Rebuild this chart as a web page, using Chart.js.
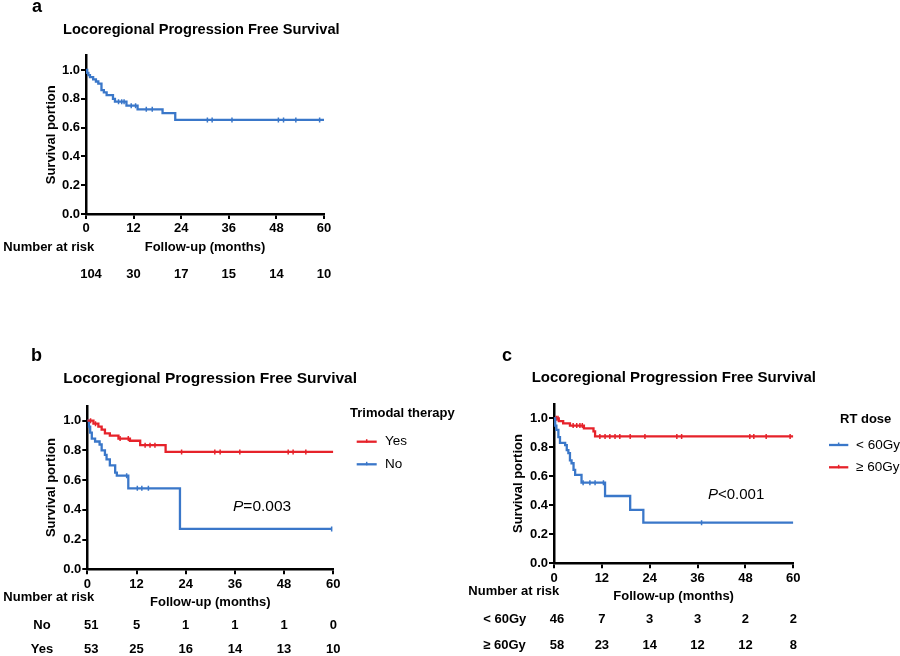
<!DOCTYPE html>
<html><head><meta charset="utf-8">
<script src="https://cdn.jsdelivr.net/npm/chart.js@4.4.1/dist/chart.umd.min.js"></script>
<style>
html,body{margin:0;padding:0;background:#fff;}
#wrap{position:relative;width:900px;height:656px;overflow:hidden;background:#fff;}
canvas{position:absolute;left:0;top:0;}
</style></head><body>
<div id="wrap">
<canvas id="ca" width="900" height="656"></canvas>
<canvas id="cb" width="900" height="656"></canvas>
<canvas id="cc" width="900" height="656"></canvas>
</div>
<script>
// ---------- data ----------
const X_TICKS = [0, 12, 24, 36, 48, 60];
const Y_TICKS = [0, 0.2, 0.4, 0.6, 0.8, 1.0];
const RISK_TIMES = [0, 12, 24, 36, 48, 60];

// Panel a: all patients
const A_TIME   = [0, 0.3, 0.6, 1.0, 1.8, 2.5, 3.1, 3.9, 4.5, 5.2, 6.8, 7.3, 10.2, 13.0, 19.3, 22.5, 60];
const A_SURV   = [1.0, 0.98, 0.965, 0.95, 0.935, 0.92, 0.905, 0.86, 0.845, 0.825, 0.80, 0.78, 0.752, 0.727, 0.70, 0.653, 0.653];
const A_CENSOR = [8.2, 9.0, 9.6, 11.4, 12.5, 15.2, 16.7, 30.6, 31.8, 36.8, 48.5, 49.8, 52.9, 58.9];
const A_RISK   = [104, 30, 17, 15, 14, 10];

// Panel b: trimodal therapy
const B_YES_TIME   = [0, 1.5, 2.7, 3.5, 4.3, 5.5, 7.6, 10.4, 12.9, 19.1, 60];
const B_YES_SURV   = [1.0, 0.98, 0.96, 0.94, 0.915, 0.90, 0.88, 0.865, 0.835, 0.79, 0.79];
const B_YES_CENSOR = [0.8, 2.0, 8.0, 10.0, 14.1, 15.3, 16.5, 23.0, 31.1, 32.4, 37.2, 49.0, 50.2, 53.3];
const B_NO_TIME    = [0, 0.4, 0.7, 1.1, 1.9, 3.0, 3.5, 4.3, 4.7, 5.5, 6.8, 7.2, 10.0, 22.6, 59.6];
const B_NO_SURV    = [1.0, 0.96, 0.92, 0.88, 0.86, 0.84, 0.80, 0.77, 0.74, 0.70, 0.65, 0.63, 0.545, 0.272, 0.272];
const B_NO_CENSOR  = [9.6, 12.2, 13.3, 14.9, 59.6];
const B_RISK_NO    = [51, 5, 1, 1, 1, 0];
const B_RISK_YES   = [53, 25, 16, 14, 13, 10];

// Panel c: RT dose
const C_LOW_TIME    = [0, 0.3, 0.6, 1.1, 1.5, 2.8, 3.2, 3.6, 4.0, 4.4, 4.9, 5.3, 6.9, 12.8, 19.1, 22.4, 60];
const C_LOW_SURV    = [1.0, 0.95, 0.92, 0.87, 0.83, 0.815, 0.78, 0.76, 0.71, 0.69, 0.645, 0.61, 0.556, 0.464, 0.368, 0.28, 0.28];
const C_LOW_CENSOR  = [7.3, 9.0, 10.3, 12.4, 37.0];
const C_HIGH_TIME   = [0, 1.2, 2.3, 4.0, 7.5, 9.9, 10.3, 60];
const C_HIGH_SURV   = [1.0, 0.98, 0.965, 0.95, 0.93, 0.91, 0.875, 0.875];
const C_HIGH_CENSOR = [0.6, 1.0, 4.8, 5.7, 6.5, 7.1, 11.5, 12.8, 14.0, 15.3, 16.5, 19.1, 22.8, 30.8, 32.0, 49.1, 50.1, 53.2, 59.2];
const C_RISK_LOW    = [46, 7, 3, 3, 2, 2];
const C_RISK_HIGH   = [58, 23, 14, 12, 12, 8];

// ---------- styling ----------
const FONT = "'Liberation Sans', Arial, Helvetica, sans-serif";
const BLUE = '#3a77c9';
const RED  = '#e6222a';

function survAt(times, surv, t) {
  let v = surv[0];
  for (let i = 0; i < times.length; i++) { if (times[i] <= t) v = surv[i]; }
  return v;
}
function curve(label, times, surv, color) {
  return { label, data: times.map((t, i) => ({ x: t, y: surv[i] })), borderColor: color, backgroundColor: color,
    borderWidth: 2.3, stepped: true, pointRadius: 0, fill: false, tension: 0 };
}
function censor(times, surv, cens, color) {
  return { label: '_censor', data: cens.map(t => ({ x: t, y: survAt(times, surv, t) })), showLine: false,
    pointStyle: 'line', rotation: 90, pointRadius: 2.5, pointBorderWidth: 1.5, borderColor: color, pointBorderColor: color, backgroundColor: color };
}

const extrasPlugin = {
  id: 'kmExtras',
  afterDraw(chart, args, o) {
    const ctx = chart.ctx, xs = chart.scales.x;
    ctx.save();
    ctx.fillStyle = '#000';
    // panel letter
    ctx.textAlign = 'left'; ctx.textBaseline = 'alphabetic';
    ctx.font = `bold 18px ${FONT}`;
    ctx.fillText(o.letter, o.letterX, o.letterY);
    // title
    ctx.textBaseline = 'middle';
    ctx.font = `bold ${o.titleSize}px ${FONT}`;
    ctx.fillText(o.title, o.titleX, o.titleY);
    // number at risk
    ctx.font = `bold 13px ${FONT}`;
    ctx.fillText('Number at risk', o.narX, o.narY);
    o.rows.forEach(r => {
      if (r.label) { ctx.textAlign = r.labelAlign; ctx.fillText(r.label, r.labelX, r.y); }
      ctx.textAlign = 'center';
      r.values.forEach((v, i) => {
        ctx.fillText(String(v), xs.getPixelForValue(RISK_TIMES[i]) + (i === 0 ? o.firstShift : 0), r.y);
      });
    });
    // legend
    if (o.legend) {
      const L = o.legend;
      ctx.textAlign = 'left';
      ctx.font = `bold 13px ${FONT}`;
      ctx.fillText(L.title, L.titleX, L.titleY);
      ctx.font = `13.5px ${FONT}`;
      L.items.forEach(it => {
        const ds = chart.data.datasets[it.ds];
        ctx.strokeStyle = ds.borderColor; ctx.lineWidth = 2.3;
        ctx.beginPath(); ctx.moveTo(L.x1, it.y); ctx.lineTo(L.x2, it.y); ctx.stroke();
        ctx.lineWidth = 1.5;
        const mx = (L.x1 + L.x2) / 2;
        ctx.beginPath(); ctx.moveTo(mx, it.y - 2.5); ctx.lineTo(mx, it.y + 1); ctx.stroke();
        ctx.fillStyle = '#000';
        ctx.fillText(ds.label, L.textX, it.y);
      });
    }
    // p value
    if (o.p) {
      ctx.textAlign = 'left';
      ctx.font = `italic ${o.p.size}px ${FONT}`;
      ctx.fillText('P', o.p.x, o.p.y);
      const w = ctx.measureText('P').width;
      ctx.font = `${o.p.size}px ${FONT}`;
      ctx.fillText(o.p.text, o.p.x + w, o.p.y);
    }
    ctx.restore();
  }
};

function makeChart(id, datasets, L, extras) {
  const YW = 50, XH = 45;
  const tickFont = { family: FONT, size: 13, weight: 'bold' };
  return new Chart(document.getElementById(id), {
    type: 'line',
    data: { datasets },
    options: {
      responsive: false, animation: false, events: [],
      layout: { padding: { left: L.left - YW, right: 900 - L.right, top: L.top, bottom: 656 - L.bottom - XH } },
      plugins: { legend: { display: false }, tooltip: { enabled: false }, kmExtras: extras },
      scales: {
        x: {
          type: 'linear', min: 0, max: 60,
          afterFit(s) { s.height = XH; },
          afterBuildTicks(s) { s.ticks = X_TICKS.map(v => ({ value: v })); },
          ticks: { font: tickFont, color: '#000', padding: 2, maxRotation: 0, autoSkip: false },
          grid: { display: true, drawOnChartArea: false, drawTicks: true, tickLength: 5, tickWidth: 2, lineWidth: 2, color: '#000' },
          border: { display: true, color: '#000', width: 2.5 },
          title: { display: true, text: 'Follow-up (months)', font: tickFont, color: '#000', padding: { top: 0, bottom: 3.7 } }
        },
        y: {
          type: 'linear', min: 0, max: 1.1,
          afterFit(s) { s.width = YW; },
          afterBuildTicks(s) { s.ticks = Y_TICKS.map(v => ({ value: v })); },
          ticks: { font: tickFont, color: '#000', padding: 1, callback: v => Number(v).toFixed(1) },
          grid: { display: true, drawOnChartArea: false, drawTicks: true, tickLength: 5, tickWidth: 2, lineWidth: 2, color: '#000' },
          border: { display: true, color: '#000', width: 2.5 },
          title: { display: true, text: 'Survival portion', font: tickFont, color: '#000', padding: { top: L.yPad, bottom: 0 } }
        }
      }
    },
    plugins: [extrasPlugin]
  });
}

// Panel a
makeChart('ca', [
  curve('All', A_TIME, A_SURV, BLUE),
  censor(A_TIME, A_SURV, A_CENSOR, BLUE)
], { left: 86, right: 324, top: 214 - 1.1 * 144, bottom: 214, yPad: 7.7 }, {
  letter: 'a', letterX: 32, letterY: 11.7,
  title: 'Locoregional Progression Free Survival', titleX: 63, titleY: 29.7, titleSize: 14.6,
  narX: 3.3, narY: 247.5, firstShift: 5,
  rows: [{ label: null, values: A_RISK, y: 274 }]
});

// Panel b
makeChart('cb', [
  curve('Yes', B_YES_TIME, B_YES_SURV, RED),
  curve('No', B_NO_TIME, B_NO_SURV, BLUE),
  censor(B_YES_TIME, B_YES_SURV, B_YES_CENSOR, RED),
  censor(B_NO_TIME, B_NO_SURV, B_NO_CENSOR, BLUE)
], { left: 87.3, right: 333.3, top: 569.3 - 1.1 * 148.6, bottom: 569.3, yPad: 6.4 }, {
  letter: 'b', letterX: 31, letterY: 360.7,
  title: 'Locoregional Progression Free Survival', titleX: 63.3, titleY: 378.8, titleSize: 15.5,
  narX: 3.3, narY: 597, firstShift: 4,
  rows: [
    { label: 'No', labelAlign: 'center', labelX: 42, values: B_RISK_NO, y: 625.7 },
    { label: 'Yes', labelAlign: 'center', labelX: 42, values: B_RISK_YES, y: 649.3 }
  ],
  legend: { title: 'Trimodal therapy', titleX: 350, titleY: 413.3, x1: 356.7, x2: 376.7, textX: 385,
    items: [{ ds: 0, y: 441.7 }, { ds: 1, y: 464.3 }] },
  p: { x: 233, y: 506.7, size: 15.5, text: '=0.003' }
});

// Panel c
makeChart('cc', [
  curve('< 60Gy', C_LOW_TIME, C_LOW_SURV, BLUE),
  curve('\u2265 60Gy', C_HIGH_TIME, C_HIGH_SURV, RED),
  censor(C_LOW_TIME, C_LOW_SURV, C_LOW_CENSOR, BLUE),
  censor(C_HIGH_TIME, C_HIGH_SURV, C_HIGH_CENSOR, RED)
], { left: 554, right: 793.3, top: 563.3 - 1.1 * 145, bottom: 563.3, yPad: 6.9 }, {
  letter: 'c', letterX: 502, letterY: 360.7,
  title: 'Locoregional Progression Free Survival', titleX: 531.7, titleY: 378.3, titleSize: 15,
  narX: 468.3, narY: 591.7, firstShift: 3,
  rows: [
    { label: '< 60Gy', labelAlign: 'left', labelX: 483.3, values: C_RISK_LOW, y: 619.3 },
    { label: '\u2265 60Gy', labelAlign: 'left', labelX: 483.3, values: C_RISK_HIGH, y: 645 }
  ],
  legend: { title: 'RT dose', titleX: 840, titleY: 419.3, x1: 829, x2: 848.3, textX: 856,
    items: [{ ds: 0, y: 445 }, { ds: 1, y: 467.3 }] },
  p: { x: 708, y: 495.3, size: 15, text: '<0.001' }
});
</script>
</body></html>
